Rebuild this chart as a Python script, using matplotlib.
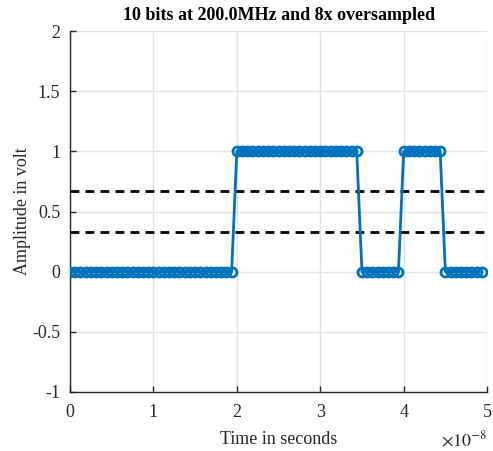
import numpy as np
import matplotlib.pyplot as plt
from matplotlib.ticker import FuncFormatter

plt.rcParams['font.family'] = ['Liberation Serif', 'DejaVu Serif']
plt.rcParams['mathtext.fontset'] = 'stix'
plt.rcParams['axes.unicode_minus'] = False

# 10 bits at 200 MHz, 8x oversampled
bits = [0, 0, 0, 0, 1, 1, 1, 0, 1, 0]
bit_rate = 200.0e6
oversample = 8
thresholds = [1 / 3, 2 / 3]

samples = np.repeat(bits, oversample)
t = np.arange(len(samples)) / (bit_rate * oversample)

fig = plt.figure(figsize=(4.93, 4.51), dpi=100)
ax = fig.add_axes([0.142, 0.131, 0.846, 0.800])

ax.plot(t, samples, color='#0072BD', linewidth=2, marker='o', markersize=6.5,
        markerfacecolor='none', markeredgewidth=2, zorder=3)
for th in thresholds:
    ax.axhline(th, color='black', linestyle=(0, (3.2, 2.2)), linewidth=2, zorder=2)

ax.set_xlim(0, 5e-8)
ax.set_ylim(-1, 2)
ax.set_xticks(np.arange(0, 6) * 1e-8)
ax.set_yticks([-1, -0.5, 0, 0.5, 1, 1.5, 2])
ax.xaxis.set_major_formatter(FuncFormatter(lambda v, p: '%g' % round(v / 1e-8, 6)))
ax.yaxis.set_major_formatter(FuncFormatter(lambda v, p: '%g' % v))

ax.grid(True, color='#e3e3e3', linewidth=1)
ax.set_axisbelow(True)
for s in ['top', 'right']:
    ax.spines[s].set_visible(False)
for s in ['left', 'bottom']:
    ax.spines[s].set_color('#262626')
    ax.spines[s].set_linewidth(1)
ax.tick_params(direction='in', length=4, width=1, colors='#262626', labelsize=13,
               labelcolor='#262626')
ax.tick_params(axis='x', pad=9)
ax.tick_params(axis='y', pad=7)

ax.set_title('10 bits at 200.0MHz and 8x oversampled', fontsize=13, fontweight='bold', pad=8)
ax.set_xlabel('Time in seconds', fontsize=13, labelpad=7, color='#262626')
ax.set_ylabel('Amplitude in volt', fontsize=13, color='#262626', labelpad=1)
ax.text(1.0, -0.105, r'$\times 10^{-8}$', transform=ax.transAxes, ha='right', va='top',
        fontsize=13, color='#262626')

plt.savefig('out.png', dpi=100)
